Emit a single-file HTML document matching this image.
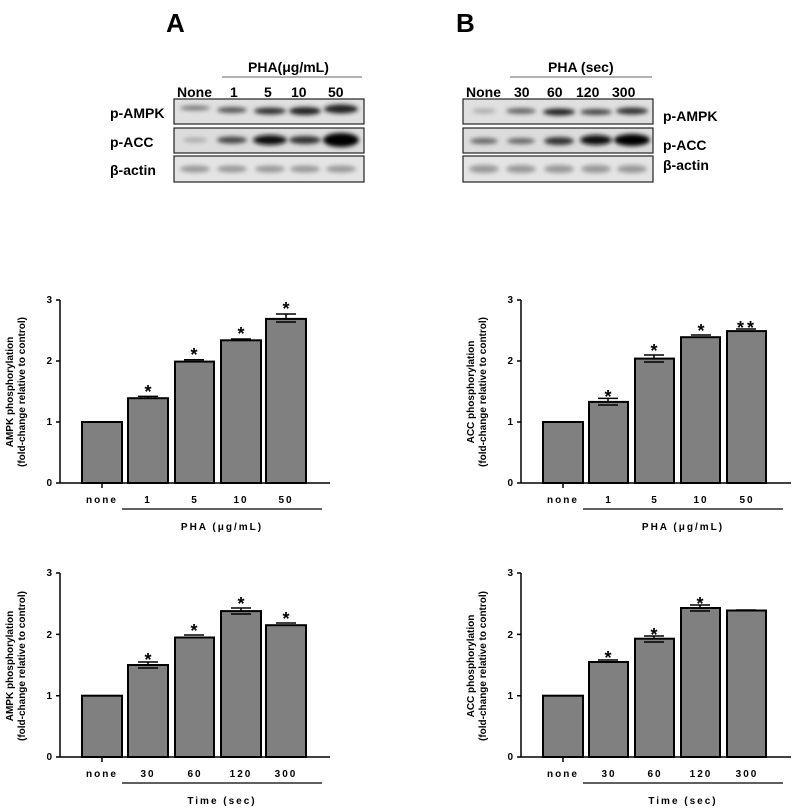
<!DOCTYPE html>
<html><head><meta charset="utf-8"><style>
html,body{margin:0;padding:0;background:#fff}
svg{display:block}
text{font-family:"Liberation Sans",Arial,sans-serif}
.b{font-weight:bold}
.tl{font-size:10px;font-weight:bold;letter-spacing:2px}
.yl{font-size:10px;font-weight:bold}
.yt{font-size:10px;font-weight:bold}
.bar{fill:#808080;stroke:#000;stroke-width:2}
.ax{stroke:#000;stroke-width:1.5;fill:none}
.eb{stroke:#000;stroke-width:1.5;fill:none}
.st{font-size:18px;font-weight:bold}
.wl{font-size:14px;font-weight:bold}
</style></head><body>
<svg width="800" height="808" viewBox="0 0 800 808" xmlns="http://www.w3.org/2000/svg">
<defs>
<filter id="bl" x="-50%" y="-100%" width="200%" height="300%"><feGaussianBlur stdDeviation="2"/></filter>
</defs>
<!-- Blots A -->
<text x="166" y="32" font-size="26" class="b">A</text>
<text x="248" y="72" class="wl">PHA(μg/mL)</text>
<line x1="222" y1="77" x2="362" y2="77" stroke="#666" stroke-width="1"/>
<text x="177" y="97" class="wl">None</text>
<text x="230" y="97" class="wl">1</text>
<text x="264" y="97" class="wl">5</text>
<text x="291" y="97" class="wl">10</text>
<text x="328" y="97" class="wl">50</text>
<text x="110" y="118" class="wl">p-AMPK</text>
<text x="110" y="147" class="wl">p-ACC</text>
<text x="110" y="175" class="wl">β-actin</text>
<g>
<rect x="174" y="99" width="190" height="25" fill="#e0e0e0" stroke="#222" stroke-width="1.2"/>
<rect x="174" y="128" width="190" height="25" fill="#dcdcdc" stroke="#222" stroke-width="1.2"/>
<rect x="174" y="156" width="190" height="26" fill="#e4e4e4" stroke="#222" stroke-width="1.2"/>
<g filter="url(#bl)">
<ellipse cx="195" cy="108" rx="15" ry="2.5" fill="#777"/>
<ellipse cx="232" cy="110" rx="15" ry="3" fill="#555"/>
<ellipse cx="270" cy="111" rx="16" ry="3.5" fill="#333"/>
<ellipse cx="305" cy="111" rx="16" ry="4" fill="#222"/>
<ellipse cx="341" cy="109" rx="17" ry="4.5" fill="#222"/>
<ellipse cx="195" cy="140" rx="12" ry="2.5" fill="#aaa"/>
<ellipse cx="232" cy="140" rx="15" ry="3.5" fill="#444"/>
<ellipse cx="270" cy="140" rx="17" ry="5" fill="#111"/>
<ellipse cx="305" cy="140" rx="16" ry="4" fill="#333"/>
<ellipse cx="341" cy="140" rx="18" ry="7" fill="#000"/>
<ellipse cx="195" cy="169" rx="15" ry="3.5" fill="#999"/>
<ellipse cx="232" cy="169" rx="15" ry="3.5" fill="#999"/>
<ellipse cx="270" cy="169" rx="15" ry="3.5" fill="#999"/>
<ellipse cx="305" cy="169" rx="15" ry="3.5" fill="#999"/>
<ellipse cx="341" cy="169" rx="15" ry="3.5" fill="#999"/>
</g></g>
<!-- Blots B -->
<text x="456" y="32" font-size="26" class="b">B</text>
<text x="548" y="72" class="wl">PHA (sec)</text>
<line x1="510" y1="77" x2="652" y2="77" stroke="#666" stroke-width="1"/>
<text x="466" y="97" class="wl">None</text>
<text x="514" y="97" class="wl">30</text>
<text x="547" y="97" class="wl">60</text>
<text x="576" y="97" class="wl">120</text>
<text x="612" y="97" class="wl">300</text>
<text x="663" y="121" class="wl">p-AMPK</text>
<text x="663" y="150" class="wl">p-ACC</text>
<text x="663" y="170" class="wl">β-actin</text>
<g>
<rect x="463" y="99" width="190" height="25" fill="#e0e0e0" stroke="#222" stroke-width="1.2"/>
<rect x="463" y="128" width="190" height="25" fill="#dcdcdc" stroke="#222" stroke-width="1.2"/>
<rect x="463" y="156" width="190" height="26" fill="#e4e4e4" stroke="#222" stroke-width="1.2"/>
<g filter="url(#bl)">
<ellipse cx="484" cy="111" rx="12" ry="2.5" fill="#aaa"/>
<ellipse cx="521" cy="111" rx="15" ry="3" fill="#666"/>
<ellipse cx="559" cy="112" rx="16" ry="3.5" fill="#222"/>
<ellipse cx="596" cy="112" rx="16" ry="3" fill="#444"/>
<ellipse cx="632" cy="111" rx="16" ry="3.5" fill="#333"/>
<ellipse cx="484" cy="141" rx="14" ry="3" fill="#666"/>
<ellipse cx="521" cy="141" rx="14" ry="3" fill="#666"/>
<ellipse cx="559" cy="141" rx="15" ry="4" fill="#333"/>
<ellipse cx="596" cy="140" rx="16" ry="5" fill="#111"/>
<ellipse cx="632" cy="140" rx="18" ry="6" fill="#000"/>
<ellipse cx="484" cy="169" rx="15" ry="4" fill="#999"/>
<ellipse cx="521" cy="169" rx="15" ry="4" fill="#999"/>
<ellipse cx="559" cy="169" rx="15" ry="4" fill="#999"/>
<ellipse cx="596" cy="169" rx="15" ry="4" fill="#999"/>
<ellipse cx="632" cy="169" rx="15" ry="4" fill="#999"/>
</g></g>

<!-- Chart TL -->
<g transform="translate(60,483)">
<path class="ax" d="M0,0V-183M-4,0H0M-4,-61H0M-4,-122H0M-4,-183H0M0,0H270M42,0V5"/>
<text class="yl" x="-8" y="3" text-anchor="end">0</text>
<text class="yl" x="-8" y="-58" text-anchor="end">1</text>
<text class="yl" x="-8" y="-119" text-anchor="end">2</text>
<text class="yl" x="-8" y="-180" text-anchor="end">3</text>
<g transform="rotate(-90)"><text class="yt" x="91" y="-47" text-anchor="middle">AMPK phosphorylation</text><text class="yt" x="91" y="-35" text-anchor="middle">(fold-change relative to control)</text></g>
<rect class="bar" x="22" y="-61" width="40" height="61"/>
<rect class="bar" x="68" y="-84.8" width="40" height="84.8"/>
<rect class="bar" x="115" y="-121.4" width="39" height="121.4"/>
<rect class="bar" x="161" y="-142.7" width="40" height="142.7"/>
<rect class="bar" x="206" y="-164.1" width="40" height="164.1"/>
<path class="eb" d="M78,-86.6H98M88,-84.8V-86.6M124,-123.2H144M171,-144H191M216,-169H236M226,-164V-169M216,-161H236"/>
<text class="st" x="88" y="-85" text-anchor="middle">*</text>
<text class="st" x="134" y="-122" text-anchor="middle">*</text>
<text class="st" x="181" y="-143" text-anchor="middle">*</text>
<text class="st" x="226" y="-168" text-anchor="middle">*</text>
<text class="tl" x="42" y="20" text-anchor="middle">none</text>
<text class="tl" x="88" y="20" text-anchor="middle">1</text>
<text class="tl" x="135" y="20" text-anchor="middle">5</text>
<text class="tl" x="181" y="20" text-anchor="middle">10</text>
<text class="tl" x="226" y="20" text-anchor="middle">50</text>
<line x1="62" y1="26" x2="262" y2="26" stroke="#000" stroke-width="1.2"/>
<text class="tl" x="162" y="47" text-anchor="middle">PHA (μg/mL)</text>
</g>

<!-- Chart TR -->
<g transform="translate(521,483)">
<path class="ax" d="M0,0V-183M-4,0H0M-4,-61H0M-4,-122H0M-4,-183H0M0,0H270M42,0V5"/>
<text class="yl" x="-8" y="3" text-anchor="end">0</text>
<text class="yl" x="-8" y="-58" text-anchor="end">1</text>
<text class="yl" x="-8" y="-119" text-anchor="end">2</text>
<text class="yl" x="-8" y="-180" text-anchor="end">3</text>
<g transform="rotate(-90)"><text class="yt" x="91" y="-47" text-anchor="middle">ACC phosphorylation</text><text class="yt" x="91" y="-35" text-anchor="middle">(fold-change relative to control)</text></g>
<rect class="bar" x="22" y="-61" width="40" height="61"/>
<rect class="bar" x="68" y="-81.1" width="39" height="81.1"/>
<rect class="bar" x="114" y="-124.4" width="39" height="124.4"/>
<rect class="bar" x="160" y="-145.8" width="39" height="145.8"/>
<rect class="bar" x="206" y="-151.9" width="39" height="151.9"/>
<path class="eb" d="M77,-84.6H97M87,-81V-84.6M77,-78H97M123,-128H143M133,-124V-128M123,-121H143M170,-148H190M215,-154H235"/>
<text class="st" x="87" y="-80" text-anchor="middle">*</text>
<text class="st" x="133" y="-126" text-anchor="middle">*</text>
<text class="st" x="180" y="-146" text-anchor="middle">*</text>
<text class="st" x="226" y="-149" text-anchor="middle" letter-spacing="3">**</text>
<text class="tl" x="42" y="20" text-anchor="middle">none</text>
<text class="tl" x="88" y="20" text-anchor="middle">1</text>
<text class="tl" x="134" y="20" text-anchor="middle">5</text>
<text class="tl" x="180" y="20" text-anchor="middle">10</text>
<text class="tl" x="226" y="20" text-anchor="middle">50</text>
<line x1="62" y1="26" x2="262" y2="26" stroke="#000" stroke-width="1.2"/>
<text class="tl" x="162" y="47" text-anchor="middle">PHA (μg/mL)</text>
</g>

<!-- Chart BL -->
<g transform="translate(60,757)">
<path class="ax" d="M0,0V-184M-4,0H0M-4,-61.3H0M-4,-122.6H0M-4,-184H0M0,0H270M42,0V5"/>
<text class="yl" x="-8" y="3" text-anchor="end">0</text>
<text class="yl" x="-8" y="-58" text-anchor="end">1</text>
<text class="yl" x="-8" y="-119" text-anchor="end">2</text>
<text class="yl" x="-8" y="-181" text-anchor="end">3</text>
<g transform="rotate(-90)"><text class="yt" x="91" y="-47" text-anchor="middle">AMPK phosphorylation</text><text class="yt" x="91" y="-35" text-anchor="middle">(fold-change relative to control)</text></g>
<rect class="bar" x="22" y="-61.3" width="40" height="61.3"/>
<rect class="bar" x="68" y="-92" width="40" height="92"/>
<rect class="bar" x="115" y="-119.5" width="39" height="119.5"/>
<rect class="bar" x="161" y="-145.9" width="40" height="145.9"/>
<rect class="bar" x="206" y="-131.8" width="40" height="131.8"/>
<path class="eb" d="M78,-95H98M78,-89H98M88,-92V-95M124,-122H144M171,-149H191M171,-143H191M181,-146V-149M216,-134H236"/>
<text class="st" x="88" y="-91" text-anchor="middle">*</text>
<text class="st" x="134" y="-120" text-anchor="middle">*</text>
<text class="st" x="181" y="-147" text-anchor="middle">*</text>
<text class="st" x="226" y="-132" text-anchor="middle">*</text>
<text class="tl" x="42" y="20" text-anchor="middle">none</text>
<text class="tl" x="88" y="20" text-anchor="middle">30</text>
<text class="tl" x="135" y="20" text-anchor="middle">60</text>
<text class="tl" x="181" y="20" text-anchor="middle">120</text>
<text class="tl" x="226" y="20" text-anchor="middle">300</text>
<line x1="62" y1="26" x2="262" y2="26" stroke="#000" stroke-width="1.2"/>
<text class="tl" x="162" y="47" text-anchor="middle">Time (sec)</text>
</g>

<!-- Chart BR -->
<g transform="translate(521,757)">
<path class="ax" d="M0,0V-184M-4,0H0M-4,-61.3H0M-4,-122.6H0M-4,-184H0M0,0H270M42,0V5"/>
<text class="yl" x="-8" y="3" text-anchor="end">0</text>
<text class="yl" x="-8" y="-58" text-anchor="end">1</text>
<text class="yl" x="-8" y="-119" text-anchor="end">2</text>
<text class="yl" x="-8" y="-181" text-anchor="end">3</text>
<g transform="rotate(-90)"><text class="yt" x="91" y="-47" text-anchor="middle">ACC phosphorylation</text><text class="yt" x="91" y="-35" text-anchor="middle">(fold-change relative to control)</text></g>
<rect class="bar" x="22" y="-61.3" width="40" height="61.3"/>
<rect class="bar" x="68" y="-95" width="39" height="95"/>
<rect class="bar" x="114" y="-118.3" width="39" height="118.3"/>
<rect class="bar" x="160" y="-149" width="39" height="149"/>
<rect class="bar" x="206" y="-146.5" width="39" height="146.5"/>
<path class="eb" d="M77,-97H97M123,-121H143M123,-115H143M133,-118V-121M169,-152H189M169,-146H189M179,-149V-152M215,-147H235"/>
<text class="st" x="87" y="-93" text-anchor="middle">*</text>
<text class="st" x="133" y="-116" text-anchor="middle">*</text>
<text class="st" x="179" y="-147" text-anchor="middle">*</text>
<text class="tl" x="42" y="20" text-anchor="middle">none</text>
<text class="tl" x="88" y="20" text-anchor="middle">30</text>
<text class="tl" x="134" y="20" text-anchor="middle">60</text>
<text class="tl" x="180" y="20" text-anchor="middle">120</text>
<text class="tl" x="226" y="20" text-anchor="middle">300</text>
<line x1="62" y1="26" x2="262" y2="26" stroke="#000" stroke-width="1.2"/>
<text class="tl" x="162" y="47" text-anchor="middle">Time (sec)</text>
</g>
</svg>
</body></html>
